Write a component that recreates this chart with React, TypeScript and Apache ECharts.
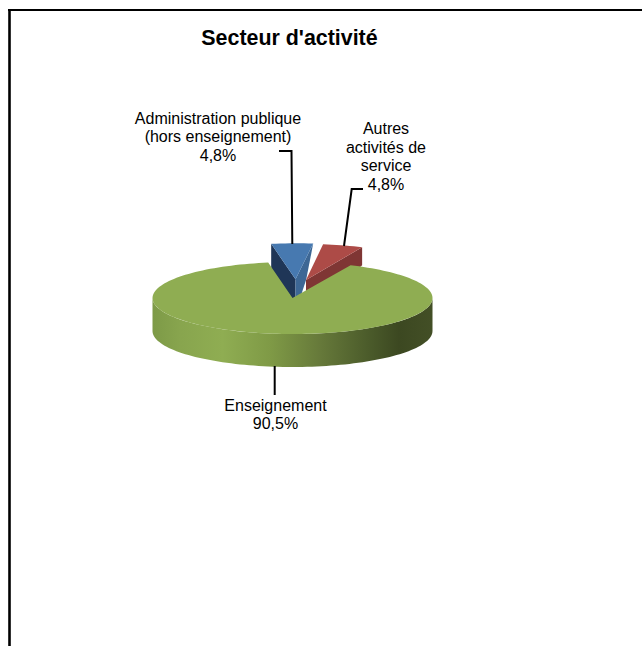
import React, { useEffect, useRef } from "react";
import * as echarts from "echarts";

const categories = ["Administration publique\n(hors enseignement)", "Autres\nactivités de\nservice", "Enseignement"];
const values = [4.8, 4.8, 90.5];
const percentLabels = ["4,8%", "4,8%", "90,5%"];
const titleText = "Secteur d'activité";

const FONT = '"Liberation Sans", Arial, sans-serif';
const CX = 292.5, CY = 298, RX = 140, RY = 36, DEPTH = 33;
const START_ANGLE = -10;

const topColors = ["#4779b0", "#ad4b47", "#8fad52"];
const explode = [[3, -18.7], [13.5, -18], [0, 0]];
const labelPos = [[218, 136.5], [386, 156.5], [275.5, 414.5]];
const leaders = [
  [[279, 151], [291.5, 151], [292.3, 244]],
  [[363, 189], [351.7, 189], [344, 246]],
  [[274.7, 366], [274.7, 395]],
];

function pt(deg: number, ox = 0, oy = 0, drop = 0): number[] {
  const t = (deg * Math.PI) / 180;
  return [CX + ox + RX * Math.sin(t), CY + oy - RY * Math.cos(t) + drop];
}
function arc(a: number, b: number, ox = 0, oy = 0, drop = 0): number[][] {
  const n = Math.max(2, Math.ceil(Math.abs(b - a) / 2));
  const out: number[][] = [];
  for (let i = 0; i <= n; i++) out.push(pt(a + ((b - a) * i) / n, ox, oy, drop));
  return out;
}

const total = values.reduce((s, v) => s + v, 0);

function renderItem(params: any, api: any) {
  const i = params.dataIndex;
  let a = START_ANGLE;
  for (let k = 0; k < i; k++) a += (values[k] / total) * 360;
  const b = a + (api.value(0) / total) * 360;
  const [ox, oy] = explode[i];
  const apex = [CX + ox, CY + oy];
  const children: any[] = [];
  const poly = (points: number[][], fill: any) => ({
    type: "polygon",
    shape: { points },
    style: { fill, stroke: null },
  });

  if (i === 0) {
    const l = pt(a, ox, oy);
    const r = pt(b, ox, oy);
    children.push(poly([l, apex, [apex[0], apex[1] + DEPTH], [l[0], l[1] + DEPTH]], "#1f3657"));
    children.push(poly([r, apex, [apex[0], apex[1] + DEPTH], [r[0] - 7, r[1] + DEPTH + 3], [r[0] - 7, r[1] + 36]], "#3d6795"));
  }
  if (i === 1) {
    const r = pt(b, ox, oy);
    const rr = [r[0] - 2, r[1]];
    children.push(poly([apex, rr, [rr[0], rr[1] + 18], [apex[0], apex[1] + DEPTH]], "#7f3634"));
  }
  if (i === 2) {
    const front = arc(90, 270);
    const bottom = arc(270, 90, 0, 0, DEPTH);
    children.push(
      poly([...front, ...bottom], new echarts.graphic.LinearGradient(0, 0, 1, 0, [
        { offset: 0, color: "#7d9a47" },
        { offset: 0.1, color: "#88a54e" },
        { offset: 0.25, color: "#8fad52" },
        { offset: 0.42, color: "#7f9a46" },
        { offset: 0.6, color: "#66793a" },
        { offset: 0.78, color: "#4a5a2a" },
        { offset: 0.88, color: "#3c4821" },
        { offset: 1, color: "#434f26" },
      ]))
    );
  }

  const topPts = i === 1
    ? [apex, ...arc(a, b, ox, oy).map((p) => [p[0] - 2 * ((p[0] - apex[0]) / (RX * Math.sin((b * Math.PI) / 180))), p[1]])]
    : [apex, ...arc(a, b, ox, oy)];
  children.push(poly(topPts, topColors[i]));

  children.push({
    type: "polyline",
    shape: { points: leaders[i] },
    style: { stroke: "#000", lineWidth: 2, fill: null },
  });
  children.push({
    type: "text",
    style: {
      x: labelPos[i][0],
      y: labelPos[i][1],
      text: categories[i] + "\n" + percentLabels[i],
      font: `16px ${FONT}`,
      lineHeight: 18.5,
      align: "center",
      verticalAlign: "middle",
      fill: "#000",
    },
  });
  return { type: "group", children };
}

export default function App() {
  const ref = useRef<HTMLDivElement>(null);
  useEffect(() => {
    const chart = echarts.init(ref.current!, null, { renderer: "svg" });
    chart.setOption({
      animation: false,
      backgroundColor: "#fff",
      graphic: [
        {
          type: "line",
          shape: { x1: 9.5, y1: 646, x2: 9.5, y2: 9 },
          style: { stroke: "#000", lineWidth: 2.6 },
          silent: true,
        },
        {
          type: "line",
          shape: { x1: 8, y1: 10, x2: 642, y2: 10 },
          style: { stroke: "#000", lineWidth: 2 },
          silent: true,
        },
        {
          type: "text",
          silent: true,
          style: {
            x: 289.5,
            y: 37.5,
            text: titleText,
            font: `bold 21.4px ${FONT}`,
            align: "center",
            verticalAlign: "middle",
            fill: "#000",
          },
        },
      ],
      series: [
        {
          type: "custom",
          coordinateSystem: "none",
          silent: true,
          data: categories.map((name, i) => ({ name, value: [values[i]] })),
          renderItem,
        },
      ],
    });
    return () => chart.dispose();
  }, []);
  return <div ref={ref} style={{ position: "fixed", left: 0, top: 0, width: 642, height: 646 }} />;
}
